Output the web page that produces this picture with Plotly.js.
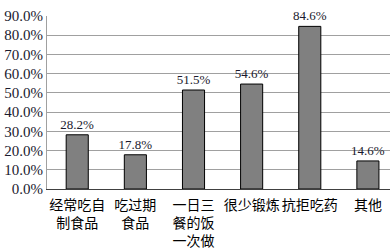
<!DOCTYPE html>
<html>
<head>
<meta charset="utf-8">
<script src="https://cdn.plot.ly/plotly-3.0.1.min.js"></script>
<style>html,body{margin:0;padding:0;background:#fff;}#chart{width:392px;height:250px;}</style>
</head>
<body>
<div id="chart"></div>
<script>
var categories = ["经常吃自<br>制食品", "吃过期<br>食品", "一日三<br>餐的饭<br>一次做", "很少锻炼", "抗拒吃药", "其他"];
var values = [28.2, 17.8, 51.5, 54.6, 84.6, 14.6];
var tickValues = [0, 10, 20, 30, 40, 50, 60, 70, 80, 90];
var tickLabels = tickValues.map(function(v){ return v.toFixed(1) + "%"; });

var trace = {
  type: "bar",
  x: categories,
  y: values,
  text: values.map(function(v){ return v.toFixed(1) + "%"; }),
  textposition: "outside",
  constraintext: "none",
  cliponaxis: false,
  textfont: {family: "Liberation Serif, Times New Roman, serif", size: 13, color: "#1a1a2e"},
  marker: {color: "#808080", line: {color: "#000000", width: 1}},
  width: 0.38,
  hoverinfo: "none"
};

var layout = {
  width: 392, height: 250,
  margin: {l: 47, r: 2, t: 16, b: 61},
  paper_bgcolor: "#ffffff", plot_bgcolor: "#ffffff",
  showlegend: false,
  xaxis: {
    type: "category",
    range: [-0.52, 5.38],
    showgrid: false,
    showline: true, linecolor: "#404040", linewidth: 1,
    ticks: "",
    ticklabelstandoff: 3,
    tickfont: {family: "Noto Sans CJK SC, sans-serif", size: 14, color: "#000"},
    tickangle: 0
  },
  yaxis: {
    range: [0, 90],
    tickvals: tickValues,
    ticktext: tickLabels,
    showgrid: true, gridcolor: "#a0a0a0", gridwidth: 1,
    showline: true, linecolor: "#a0a0a0", linewidth: 1,
    zeroline: false,
    ticks: "",
    tickfont: {family: "Liberation Serif, Times New Roman, serif", size: 15, color: "#1a1a2e"}
  }
};

Plotly.newPlot("chart", [trace], layout, {staticPlot: true, displayModeBar: false});
</script>
</body>
</html>
